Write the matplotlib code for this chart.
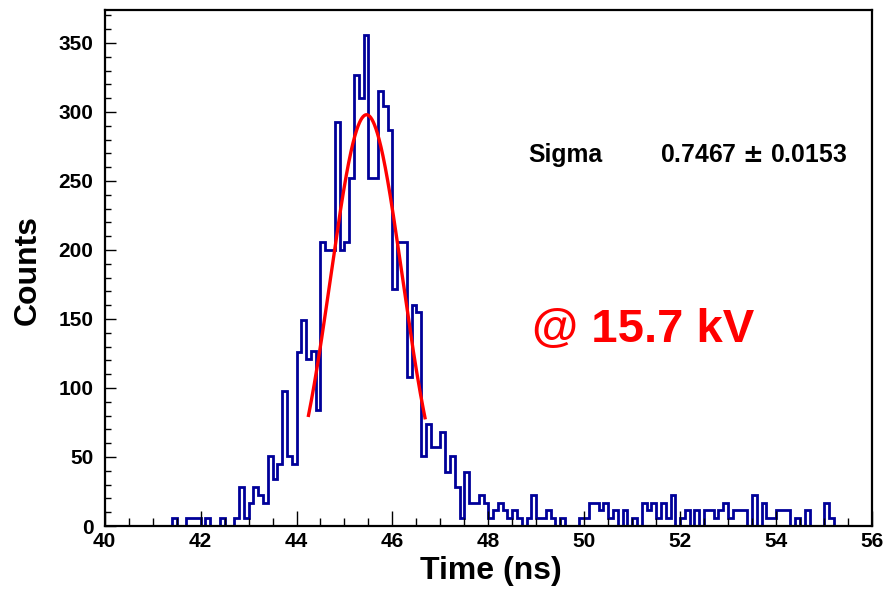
import numpy as np
import matplotlib
matplotlib.use("Agg")
import matplotlib.pyplot as plt
from matplotlib.ticker import MultipleLocator

plt.rcParams["font.family"] = ["Liberation Sans", "DejaVu Sans"]
plt.rcParams["font.weight"] = "bold"

HIST = "#000099"
FIT = "#ff0000"

# 0.1 ns bins from 40 to 56 ns
bin_lo = 40.0
bin_hi = 56.0
n_bins = 160

counts_40_42 = [0] * 14 + [5.6, 0, 0, 5.6, 5.6, 5.6]                      # 40.0 - 41.9
counts_42_44 = [0, 5.6, 0, 0, 5.6, 0, 0, 5.6, 28.2, 5.6,
                16.9, 28.2, 22.5, 16.9, 50.7, 33.8, 45.1, 98, 50.7, 45.1]   # 42.0 - 43.9
counts_44_46 = [126, 149, 121, 127, 84, 206, 200, 200, 293, 200,
                206, 252, 327, 310, 356, 252, 252, 315, 304, 287]          # 44.0 - 45.9
counts_46_48 = [172, 206, 206, 108, 160, 155, 51, 74, 57, 57,
                68, 39.4, 50.7, 28.2, 5.6, 39.4, 16.9, 16.9, 22.5, 16.9]   # 46.0 - 47.9
counts_48_50 = [5.6, 11.3, 16.9, 11.3, 5.6, 11.3, 5.6, 0, 5.6, 22.5,
                5.6, 5.6, 11.3, 5.6, 0, 5.6, 0, 0, 0, 5.6]                 # 48.0 - 49.9
counts_50_52 = [5.6, 16.9, 16.9, 11.3, 16.9, 5.6, 11.3, 0, 11.3, 0,
                5.6, 0, 16.9, 11.3, 16.9, 5.6, 16.9, 5.6, 22.5, 0]         # 50.0 - 51.9
counts_52_54 = [5.6, 11.3, 0, 11.3, 0, 11.3, 11.3, 5.6, 11.3, 16.9,
                5.6, 11.3, 11.3, 11.3, 0, 22.5, 0, 16.9, 5.6, 5.6]         # 52.0 - 53.9
counts_54_56 = [11.3, 11.3, 11.3, 0, 5.6, 0, 11.3, 0, 0, 0,
                16.9, 5.6, 0, 0, 0, 0, 0, 0, 0, 0]                         # 54.0 - 55.9

counts = np.array(counts_40_42 + counts_42_44 + counts_44_46 + counts_46_48
                  + counts_48_50 + counts_50_52 + counts_52_54 + counts_54_56)
edges = np.linspace(bin_lo, bin_hi, n_bins + 1)

# gaussian fit shown on the plot
fit_amp = 298.0
fit_mean = 45.46
fit_sigma = 0.7467
fit_range = (44.25, 46.68)

W, H = 884, 589
fig = plt.figure(figsize=(W / 100, H / 100), dpi=100)
ax = fig.add_axes([104.7 / W, 1 - 526 / H, (871.9 - 104.7) / W, (526 - 10) / H])

ax.stairs(counts, edges, color=HIST, linewidth=2.0, baseline=0)

xf = np.linspace(fit_range[0], fit_range[1], 300)
ax.plot(xf, fit_amp * np.exp(-0.5 * ((xf - fit_mean) / fit_sigma) ** 2), color=FIT, linewidth=2.4)

ax.set_xlim(bin_lo, bin_hi)
ax.set_ylim(0, 373.9)
ax.set_xticks(np.arange(40, 57, 2))
ax.set_yticks(np.arange(0, 351, 50))
ax.xaxis.set_minor_locator(MultipleLocator(0.5))
ax.yaxis.set_minor_locator(MultipleLocator(10))
ax.tick_params(axis="x", which="major", direction="in", length=11, width=1.0, pad=4, labelsize=15)
ax.tick_params(axis="x", which="minor", direction="in", length=6, width=1.0)
ax.tick_params(axis="y", which="major", direction="in", length=8, width=1.0, pad=8, labelsize=15)
ax.tick_params(axis="y", which="minor", direction="in", length=4, width=1.0)
for lab in ax.get_xticklabels() + ax.get_yticklabels():
    lab.set_fontweight("bold")
for s in ax.spines.values():
    s.set_linewidth(1.6)

fig.text(491 / W, 1 - 571 / H, "Time (ns)", fontsize=23, fontweight="bold", ha="center", va="center")
fig.text(28 / W, 1 - 270 / H, "Counts", fontsize=23, fontweight="bold", ha="center", va="center", rotation=90)

fig.text(528 / W, 1 - 155 / H, "Sigma", fontsize=17.8, fontweight="bold", ha="left", va="center")
fig.text(660 / W, 1 - 155 / H, "0.7467 $\\pm$ 0.0153", fontsize=17.8, fontweight="bold", ha="left", va="center")
fig.text(532 / W, 1 - 330 / H, "@ 15.7 kV", fontsize=34, fontweight="bold", color=FIT, ha="left", va="center")

fig.savefig("out.png", dpi=100)
plt.close(fig)
